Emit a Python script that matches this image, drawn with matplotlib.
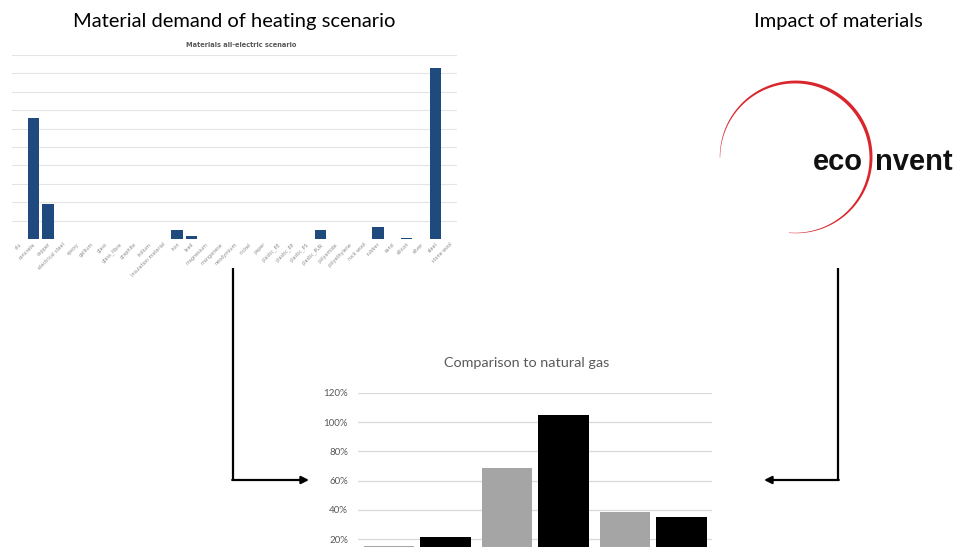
import numpy as np
import matplotlib
matplotlib.use("Agg")
import matplotlib.pyplot as plt
from matplotlib.patches import Polygon
from matplotlib.ticker import FuncFormatter

# ---------------- data ----------------
materials = ["alu", "concrete", "copper", "electrical steel", "epoxy", "gallium",
             "glass", "glass_fibre", "graphite", "indium", "insulation material",
             "iron", "lead", "magnesium", "manganese", "neodymium", "nickel",
             "paper", "plastic_PE", "plastic_PP", "plastic_PS", "plastic_PUR",
             "polyamide", "polyethylene", "rock wool", "rubber", "sand",
             "silicon", "silver", "steel", "stone wool"]
demand = [0, 6.56, 1.90, 0, 0, 0, 0, 0, 0, 0, 0, 0.49, 0.18, 0, 0, 0, 0, 0,
          0.02, 0, 0, 0.49, 0, 0, 0, 0.64, 0, 0.07, 0, 9.28, 0]

comparison_groups = ["A", "B", "C"]
series_grey = [15.6, 68.9, 38.4]
series_black = [21.8, 104.8, 35.2]
pct_ticks = [20, 40, 60, 80, 100, 120]

title_left = "Material demand of heating scenario"
title_right = "Impact of materials"
small_title = "Materials all-electric scenario"
bottom_title = "Comparison to natural gas"

# ---------------- figure ----------------
W, H = 960, 547
fig = plt.figure(figsize=(9.6, 5.47), dpi=100)
fig.patch.set_facecolor("white")


def fx(x):
    return x / W


def fy(y):
    return 1 - y / H


# overlay for decorations (arrows, logo)
ov = fig.add_axes([0, 0, 1, 1])
ov.set_xlim(0, W)
ov.set_ylim(H, 0)
ov.axis("off")
ov.patch.set_alpha(0)

# arrows
for xv, xtip in [(233, 309), (838, 764)]:
    ov.plot([xv, xv], [268, 480], color="black", lw=1.6, solid_capstyle="butt")
    ov.annotate("", xy=(xtip, 480), xytext=(xv - (0.8 if xtip > xv else -0.8), 480),
                arrowprops=dict(arrowstyle="-|>", color="black", lw=1.6,
                                mutation_scale=11, shrinkA=0, shrinkB=0))

# ecoinvent logo arc
cx, cy, r = 795.5, 157.5, 75.5
t = np.radians(np.linspace(180, -95, 300))
s = np.linspace(0, 1, 300)
w = 0.4 + 3.0 * np.sin(np.pi * s) ** 1.3
xo = cx + (r + w / 2) * np.cos(t)
yo = cy - (r + w / 2) * np.sin(t)
xi = cx + (r - w / 2) * np.cos(t)
yi = cy - (r - w / 2) * np.sin(t)
poly = np.vstack([np.column_stack([xo, yo]), np.column_stack([xi, yi])[::-1]])
ov.add_patch(Polygon(poly, closed=True, facecolor="#d8262c", edgecolor="none"))
ov.text(813, 170, "eco", ha="left", va="baseline", fontsize=21,
        family="Liberation Sans", fontweight="bold", color="#111111")
ov.text(875, 170, "nvent", ha="left", va="baseline", fontsize=21,
        family="Liberation Sans", fontweight="bold", color="#111111")

# headings
fig.text(fx(234), fy(21), title_left, ha="center", va="center", fontsize=14.5,
         family="Lato", color="black")
fig.text(fx(838), fy(21), title_right, ha="center", va="center", fontsize=14.5,
         family="Lato", color="black")

# ---------------- small chart ----------------
ax1 = fig.add_axes([fx(12), fy(239), (456.8 - 12) / W, (239 - 55) / H])
x = np.arange(len(materials))
ax1.bar(x, demand, width=0.8, color="#1F4A7E", zorder=3)
ax1.set_xlim(-0.5, len(materials) - 0.5)
ax1.set_ylim(0, 10)
ax1.set_yticks(np.arange(0, 11, 1))
ax1.set_yticklabels([])
ax1.grid(axis="y", color="#e4e4e4", lw=0.8, zorder=0)
ax1.set_axisbelow(True)
for sp in ax1.spines.values():
    sp.set_visible(False)
ax1.set_xticks(x)
ax1.set_xticklabels(materials, rotation=45, ha="right", rotation_mode="anchor",
                    fontsize=3.5, color="#8c8c8c")
ax1.tick_params(length=0, pad=2)
ax1.patch.set_alpha(0)
fig.text(fx(241.5), fy(45), small_title, ha="center", va="center", fontsize=4.8,
         color="#595959", fontweight="bold")

# ---------------- comparison chart ----------------
ax2 = fig.add_axes([fx(358.4), fy(568.6), (712.3 - 358.4) / W, (568.6 - 392.7) / H])
g = np.arange(len(comparison_groups))
ax2.bar(g - 0.24, series_grey, width=0.43, color="#a5a5a5", zorder=3)
ax2.bar(g + 0.24, series_black, width=0.43, color="black", zorder=3)
ax2.set_xlim(-0.5, len(comparison_groups) - 0.5)
ax2.set_ylim(0, 120)
ax2.set_yticks(pct_ticks)
ax2.yaxis.set_major_formatter(FuncFormatter(lambda v, p: f"{int(v)}%"))
ax2.grid(axis="y", color="#d9d9d9", lw=0.9, zorder=0)
ax2.set_axisbelow(True)
ax2.set_xticks([])
for sp in ax2.spines.values():
    sp.set_visible(False)
ax2.tick_params(axis="y", length=0, pad=7.5, labelsize=7, labelcolor="#595959")
for lab in ax2.get_yticklabels():
    lab.set_family("Lato")
ax2.patch.set_alpha(0)
fig.text(fx(527), fy(363), bottom_title, ha="center", va="center", fontsize=10.4,
         family="Lato", color="#595959")

fig.savefig("out.png", dpi=100, facecolor="white")
